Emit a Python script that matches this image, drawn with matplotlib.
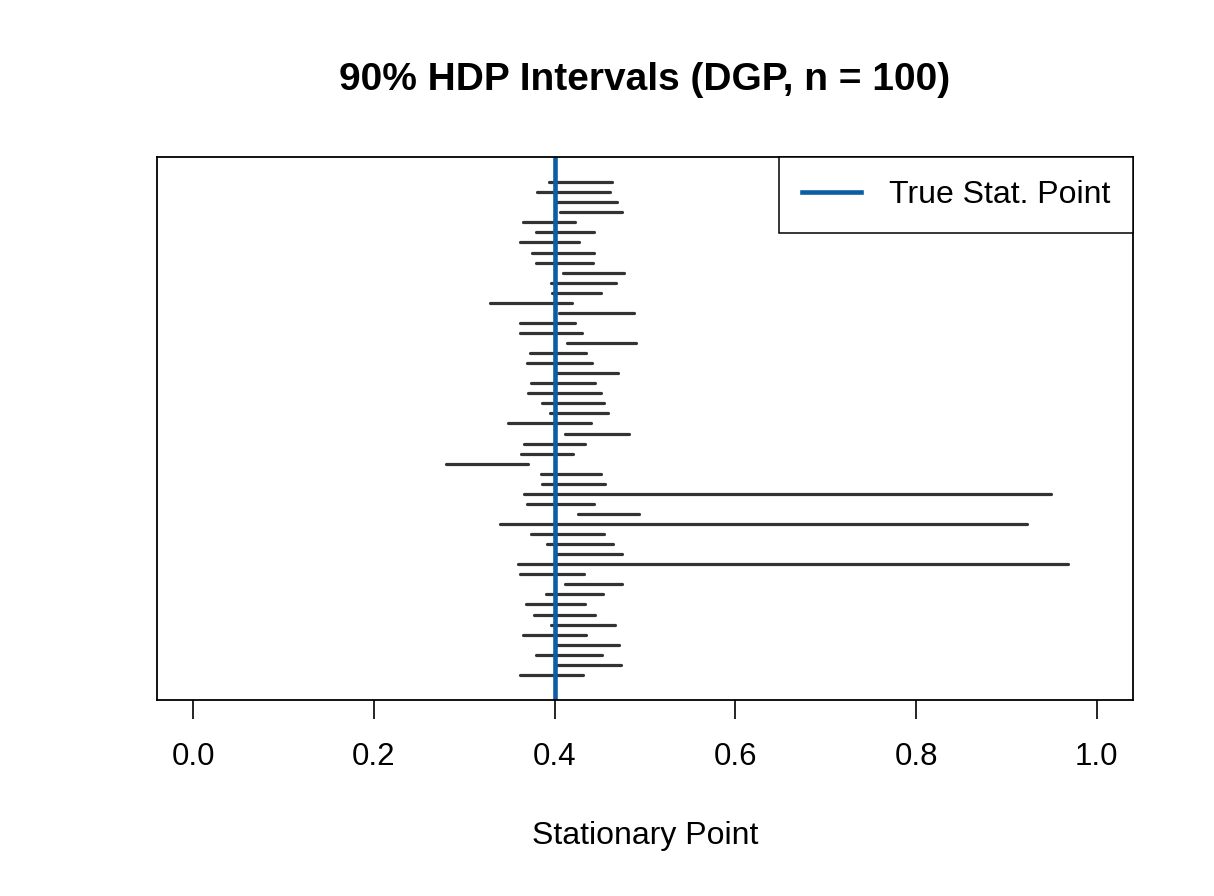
import matplotlib
matplotlib.use("Agg")
import matplotlib.pyplot as plt
import numpy as np

plt.rcParams['font.family'] = ['Liberation Sans', 'DejaVu Sans']

# 90% HDP intervals, listed top to bottom
lower = [0.394, 0.380, 0.402, 0.406, 0.365, 0.379, 0.362, 0.375, 0.379, 0.409,
         0.396, 0.397, 0.329, 0.405, 0.362, 0.362, 0.414, 0.373, 0.369, 0.402,
         0.374, 0.371, 0.386, 0.395, 0.348, 0.412, 0.366, 0.363, 0.280, 0.385,
         0.386, 0.366, 0.369, 0.426, 0.339, 0.374, 0.392, 0.402, 0.360, 0.362,
         0.412, 0.390, 0.368, 0.377, 0.396, 0.365, 0.402, 0.379, 0.402, 0.362]
upper = [0.463, 0.461, 0.469, 0.475, 0.423, 0.444, 0.427, 0.444, 0.443, 0.477,
         0.468, 0.451, 0.419, 0.488, 0.423, 0.430, 0.490, 0.435, 0.441, 0.470,
         0.445, 0.451, 0.455, 0.459, 0.440, 0.482, 0.434, 0.420, 0.370, 0.451,
         0.456, 0.949, 0.444, 0.493, 0.923, 0.455, 0.465, 0.474, 0.968, 0.433,
         0.475, 0.454, 0.434, 0.445, 0.467, 0.435, 0.471, 0.452, 0.473, 0.431]
true_point = 0.4
xticks = [0.0, 0.2, 0.4, 0.6, 0.8, 1.0]

W, H = 1214, 896
fig = plt.figure(figsize=(W / 100, H / 100), dpi=100)
ax = fig.add_axes([157 / W, 1 - 700 / H, (1133 - 157) / W, (700 - 157) / H])

n = len(lower)
ys = np.arange(n, 0, -1)
ax.hlines(ys, lower, upper, color='#333333', linewidth=2.3, capstyle='round')
ax.axvline(true_point, color='#0C5DA5', linewidth=3.3, label='True Stat. Point')

ax.set_xlim(-0.04, 1.04)
ax.set_ylim(-1.5, n + 2.5)
ax.set_yticks([])
ax.set_xticks(xticks)
ax.set_xticklabels(['%.1f' % t for t in xticks], fontsize=22.5)
ax.tick_params(axis='x', length=13.5, width=1.2, pad=17)
for s in ax.spines.values():
    s.set_linewidth(1.3)

leg = ax.legend(loc='upper right', fontsize=23, frameon=True, fancybox=False,
                edgecolor='black', framealpha=1, borderaxespad=0,
                handlelength=1.85, handletextpad=0.85, borderpad=0.72)
leg.get_frame().set_linewidth(1.1)

fig.text(645 / W, 1 - 80 / H, '90% HDP Intervals (DGP, n = 100)',
         ha='center', va='center', fontsize=28, fontweight='bold')
fig.text(645 / W, 1 - 836 / H, 'Stationary Point', ha='center', va='center',
         fontsize=23)

fig.savefig('out.png', dpi=100)
